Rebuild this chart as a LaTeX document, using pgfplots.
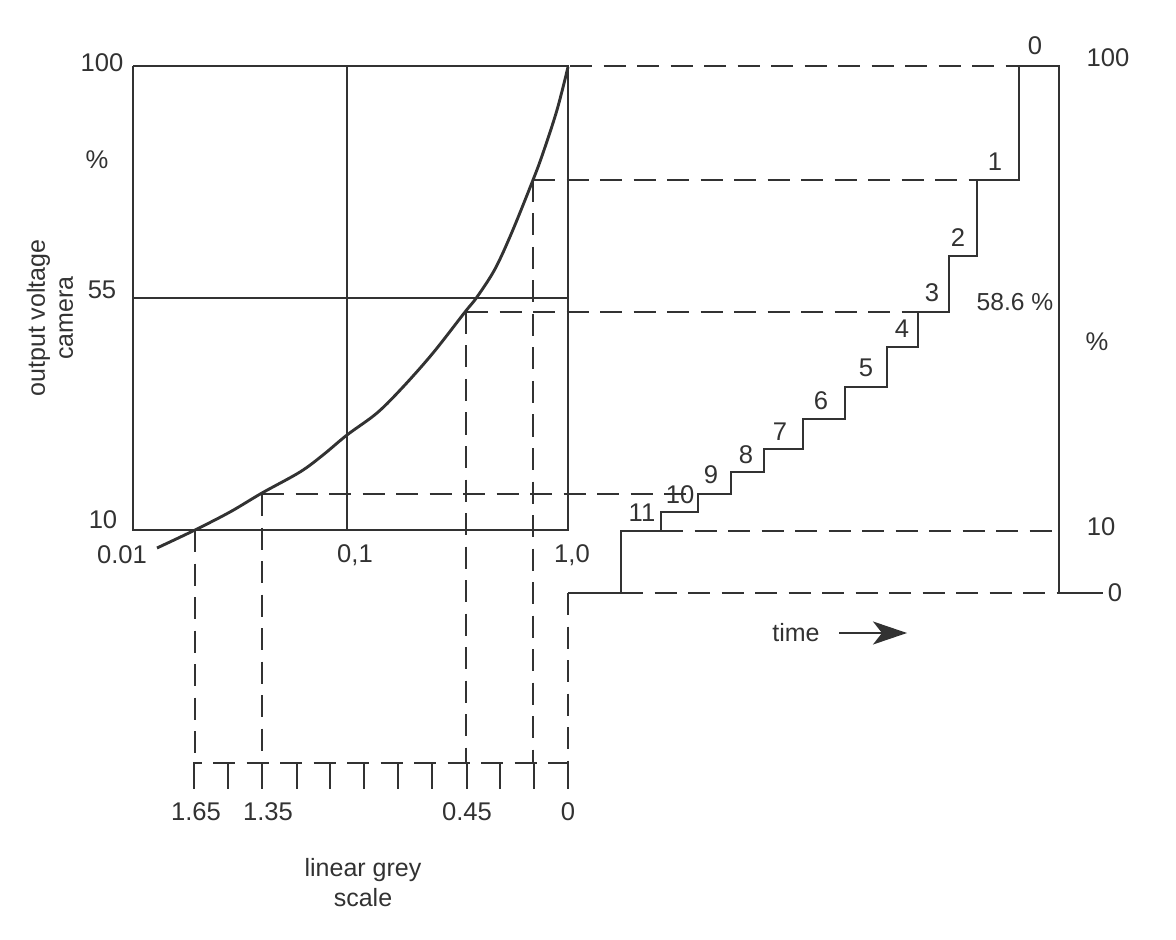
\documentclass[border=0pt]{standalone}
\usepackage{pgfplots}
\pgfplotsset{compat=1.18}
\usepackage{fontspec}
\setmainfont{Liberation Sans}
\usetikzlibrary{arrows.meta}
\definecolor{ink}{RGB}{50,50,50}
\tikzset{
  lbl/.style={font=\fontsize{12.8}{14.5}\selectfont, text=ink, inner sep=0pt},
  dsh/.style={dash pattern=on 11pt off 5.75pt},
}
\begin{document}
\begin{tikzpicture}
\begin{axis}[
  width=588pt, height=470pt, scale only axis,
  xmin=0, xmax=1176, ymin=0, ymax=940, y dir=reverse,
  hide axis, clip=false,
  every axis plot/.append style={ink, line width=1.45pt, mark=none},
]
\path (axis cs:0,0) rectangle (axis cs:1176,940);

% frame of the characteristic
\addplot[sharp plot] coordinates {(133,66) (568,66) (568,530) (133,530) (133,66)};
\addplot[sharp plot] coordinates {(347,66) (347,530)};
\addplot[sharp plot] coordinates {(133,298) (568,298)};

% camera characteristic
\addplot[smooth, tension=0.55] coordinates {
  (157,548) (195,530) (230,512) (262,493) (300,472) (323,455) (347,435)
  (377,413) (403,387) (433,353) (465,312) (477,297) (495,269) (512,232)
  (533,180) (543,153) (557,110) (568,67)};

% grey-scale staircase
\addplot[sharp plot] coordinates {
  (568,593) (621,593) (621,531) (661,531) (661,512) (698,512) (698,494)
  (731,494) (731,472) (764,472) (764,449) (803,449) (803,419) (845,419)
  (845,387) (887,387) (887,347) (918,347) (918,312) (949,312) (949,256)
  (977,256) (977,180) (1019,180) (1019,66) (1059,66) (1059,593) (1103,593)};

% projection lines
\addplot[dsh] coordinates {(570,66) (1019,66)};
\addplot[dsh] coordinates {(533,180) (977,180)};
\addplot[dsh] coordinates {(466,312) (918,312)};
\addplot[dsh] coordinates {(262,494) (698,494)};
\addplot[dsh] coordinates {(661,531) (1059,531)};
\addplot[dsh] coordinates {(621,593) (1059,593)};
\addplot[dsh] coordinates {(195,530) (195,763)};
\addplot[dsh] coordinates {(262,494) (262,763)};
\addplot[dsh] coordinates {(466,312) (466,763)};
\addplot[dsh] coordinates {(533,180) (533,763)};
\addplot[dsh] coordinates {(568,593) (568,763)};

% linear grey scale
\addplot[dash pattern=on 11pt off 5.75pt, dash phase=6.75pt] coordinates {(193,763) (568,763)};
\addplot[sharp plot] coordinates {(194,763) (194,789)};
\addplot[sharp plot] coordinates {(228,763) (228,789)};
\addplot[sharp plot] coordinates {(262,763) (262,789)};
\addplot[sharp plot] coordinates {(297,763) (297,789)};
\addplot[sharp plot] coordinates {(330,763) (330,789)};
\addplot[sharp plot] coordinates {(364,763) (364,789)};
\addplot[sharp plot] coordinates {(398,763) (398,789)};
\addplot[sharp plot] coordinates {(432,763) (432,789)};
\addplot[sharp plot] coordinates {(467,763) (467,789)};
\addplot[sharp plot] coordinates {(500,763) (500,789)};
\addplot[sharp plot] coordinates {(534,763) (534,789)};
\addplot[sharp plot] coordinates {(568,763) (568,789)};

% time arrow
\addplot[line width=1.1pt, -{Stealth[length=17pt,width=11.5pt,inset=4.5pt]}] coordinates {(839,633) (907,633)};

% labels, left
\node[lbl] at (axis cs:102,63) {100};
\node[lbl] at (axis cs:97,160) {\%};
\node[lbl] at (axis cs:102,290) {55};
\node[lbl] at (axis cs:103,520) {10};
\node[lbl, rotate=90, align=center, font=\fontsize{12.5}{14}\selectfont] at (axis cs:50,318) {output voltage\\camera};
\node[lbl] at (axis cs:122,555) {0.01};
\node[lbl] at (axis cs:355,555) {0,1};
\node[lbl] at (axis cs:572,555) {1,0};

% labels, bottom
\node[lbl] at (axis cs:196,812) {1.65};
\node[lbl] at (axis cs:268,812) {1.35};
\node[lbl] at (axis cs:467,812) {0.45};
\node[lbl] at (axis cs:568,812) {0};
\node[lbl, align=center, font=\fontsize{12.5}{14}\selectfont] at (axis cs:363,883) {linear grey\\[1pt]scale};
\node[lbl, font=\fontsize{12.5}{14}\selectfont] at (axis cs:796,633) {time};

% labels, staircase
\node[lbl] at (axis cs:1035,46) {0};
\node[lbl] at (axis cs:995,162) {1};
\node[lbl] at (axis cs:958,238) {2};
\node[lbl] at (axis cs:932,293) {3};
\node[lbl] at (axis cs:902,329) {4};
\node[lbl] at (axis cs:866,368) {5};
\node[lbl] at (axis cs:821,401) {6};
\node[lbl] at (axis cs:780,432) {7};
\node[lbl] at (axis cs:746,455) {8};
\node[lbl] at (axis cs:711,475) {9};
\node[lbl] at (axis cs:680,495) {10};
\node[lbl] at (axis cs:642,513) {11};
\node[lbl, font=\fontsize{12.3}{14}\selectfont] at (axis cs:1015,302) {58.6 \%};

% labels, right
\node[lbl] at (axis cs:1108,58) {100};
\node[lbl] at (axis cs:1097,342) {\%};
\node[lbl] at (axis cs:1101,527) {10};
\node[lbl] at (axis cs:1115,593) {0};
\end{axis}
\end{tikzpicture}
\end{document}
